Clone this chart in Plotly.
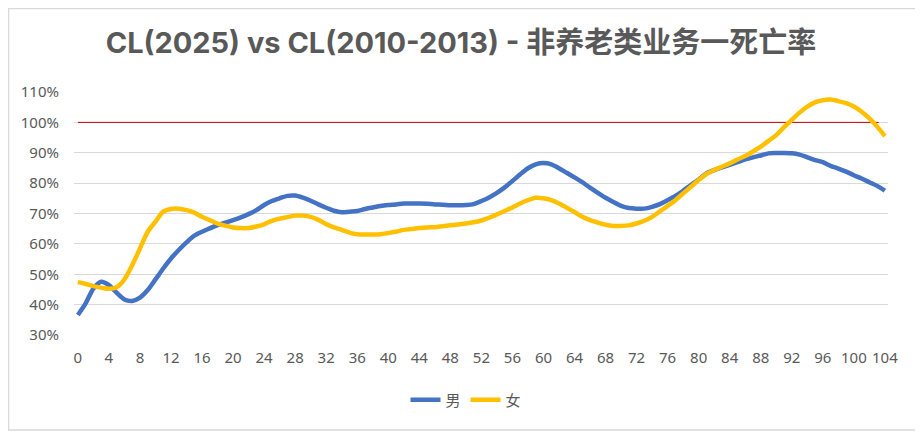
import plotly.graph_objects as go

ages = list(range(0, 105))

male = [36.6, 40.4, 45.3, 47.5, 46.4, 43.9, 41.7, 41.2, 42.3, 44.8,
        48.3, 51.9, 55.2, 58.0, 60.5, 62.7, 64.0, 65.1, 66.2, 67.0,
        67.8, 68.7, 69.8, 71.1, 72.8, 74.1, 75.0, 75.8, 75.9, 75.2,
        74.2, 73.0, 71.9, 70.9, 70.4, 70.6, 70.8, 71.5, 72.0, 72.5,
        72.8, 73.0, 73.3, 73.3, 73.3, 73.2, 73.0, 72.9, 72.7, 72.7,
        72.8, 73.1, 74.1, 75.3, 76.8, 78.6, 80.7, 82.9, 84.9, 86.2,
        86.6, 86.2, 84.9, 83.4, 81.9, 80.3, 78.5, 76.8, 75.2, 73.8,
        72.5, 71.8, 71.6, 71.6, 72.2, 73.1, 74.4, 75.8, 77.5, 79.4,
        81.2, 83.2, 84.3, 85.2, 86.0, 86.9, 87.8, 88.5, 89.1, 89.8,
        89.9, 89.9, 89.8, 89.4, 88.5, 87.6, 86.9, 85.7, 84.8, 83.8,
        82.6, 81.5, 80.3, 79.1, 77.5]

female = [47.4, 46.8, 46.1, 45.6, 45.2, 45.7, 48.3, 53.0, 58.5, 64.0,
          67.3, 70.6, 71.5, 71.6, 71.1, 70.3, 68.9, 67.8, 66.7, 66.0,
          65.4, 65.2, 65.2, 65.7, 66.4, 67.6, 68.3, 68.8, 69.3, 69.3,
          68.9, 67.9, 66.5, 65.4, 64.6, 63.7, 63.2, 63.1, 63.1, 63.2,
          63.6, 64.0, 64.6, 64.9, 65.2, 65.4, 65.5, 65.8, 66.1, 66.4,
          66.7, 67.1, 67.7, 68.6, 69.7, 70.8, 72.0, 73.3, 74.4, 75.2,
          75.0, 74.4, 73.3, 71.9, 70.5, 68.9, 67.8, 67.0, 66.3, 65.9,
          65.9, 66.1, 66.7, 67.6, 68.9, 70.7, 72.5, 74.4, 76.6, 78.8,
          81.0, 83.0, 84.3, 85.4, 86.5, 87.8, 88.9, 90.4, 92.0, 93.9,
          95.8, 98.4, 100.8, 103.2, 105.2, 106.6, 107.3, 107.5, 107.0, 106.3,
          105.2, 103.5, 101.3, 98.6, 95.5]

ref_ages = [0, 103.2]
ref_vals = [100, 100]

x_ticks = list(range(0, 105, 4))
y_ticks = [0.3, 0.4, 0.5, 0.6, 0.7, 0.8, 0.9, 1.0, 1.1]

title_text = "CL(2025) vs CL(2010-2013) - 非养老类业务一死亡率"

fig = go.Figure()
fig.add_trace(go.Scatter(x=ref_ages, y=[v / 100 for v in ref_vals], mode="lines",
                         line=dict(color="#C00000", width=1), showlegend=False,
                         hoverinfo="skip"))
fig.add_trace(go.Scatter(x=ages, y=[v / 100 for v in male], mode="lines", name="男",
                         line=dict(color="#4472C4", width=4.5, shape="spline", smoothing=0.8)))
fig.add_trace(go.Scatter(x=ages, y=[v / 100 for v in female], mode="lines", name="女",
                         line=dict(color="#FFC000", width=4.5, shape="spline", smoothing=0.8)))

# page body has an 8px margin; lay out in window pixels minus that offset
OFF = 8
W, H = 923 - OFF, 432 - OFF
ml, mr, mt, mb = 74 - OFF, 35, 92 - OFF, 97
pw, ph = W - ml - mr, H - mt - mb

def px_to_paper_x(px):
    return (px - OFF - ml) / pw

def px_to_paper_y(py):
    return (H - mb - (py - OFF)) / ph

fig.update_layout(
    width=W, height=H,
    margin=dict(l=ml, r=mr, t=mt, b=mb),
    paper_bgcolor="white", plot_bgcolor="white",
    font=dict(family="Noto Sans, Noto Sans CJK SC, sans-serif", color="#595959", size=15),
    title=dict(text="<b>" + title_text + "</b>", x=px_to_paper_x(461), xref="paper", xanchor="center",
               y=1 - (43 - OFF) / H, yanchor="middle",
               font=dict(family="Inter, Noto Sans CJK SC, sans-serif", size=29, color="#595959")),
    xaxis=dict(range=[-0.5, 104.4], tickvals=x_ticks, showgrid=False, zeroline=False,
               showline=False, ticks="", ticklabelstandoff=12,
               tickfont=dict(size=15, color="#595959")),
    yaxis=dict(range=[0.3, 1.1], tickvals=y_ticks, tickformat=".0%", showgrid=True,
               gridcolor="#D9D9D9", gridwidth=1, zeroline=False, showline=False, ticks="",
               ticklabelstandoff=14, tickfont=dict(size=15, color="#595959")),
    legend=dict(orientation="h", x=px_to_paper_x(466), xanchor="center", y=px_to_paper_y(400), yanchor="middle",
                font=dict(size=15, color="#595959"), bgcolor="rgba(0,0,0,0)"),
    shapes=[dict(type="rect", xref="paper", yref="paper",
                 x0=px_to_paper_x(8.5), x1=px_to_paper_x(918),
                 y0=px_to_paper_y(430), y1=px_to_paper_y(8.5),
                 line=dict(color="#D9D9D9", width=1.5), fillcolor="rgba(0,0,0,0)", layer="below")],
)

fig.write_html("out.html")
